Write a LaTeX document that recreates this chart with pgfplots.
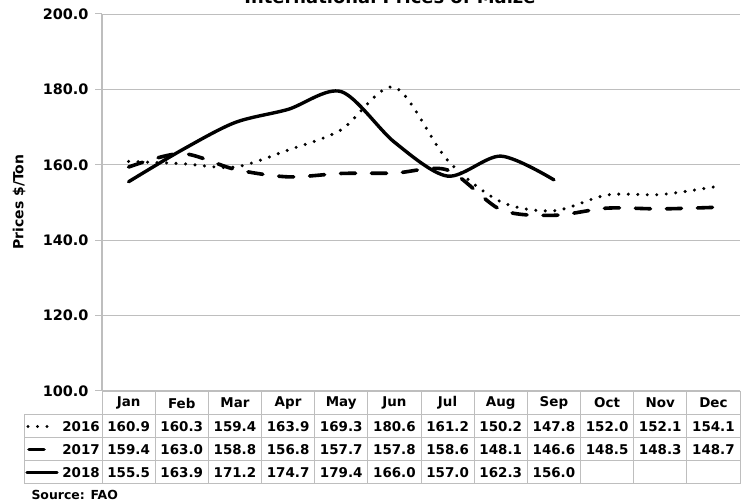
\documentclass[border=0pt]{standalone}
\usepackage{pgfplots}
\pgfplotsset{compat=1.18}
\usepackage{fontspec}
\setmainfont{DejaVu Sans}
\definecolor{axgray}{RGB}{190,190,190}
\newcommand{\tf}{\bfseries\fontsize{13.5}{15}\selectfont}
\begin{document}
\begin{tikzpicture}[x=1bp,y=1bp]
\useasboundingbox (0,0) rectangle (742,503);
\begin{axis}[
  at={(102bp,112bp)}, anchor=south west,
  width=638bp, height=377bp, scale only axis,
  xmin=-0.5, xmax=11.5, ymin=100, ymax=200,
  axis x line*=bottom, axis y line*=left,
  axis line style={axgray, line width=1.2pt},
  xtick=\empty,
  ytick={100,120,...,200},
  ymajorgrids, major grid style={axgray, line width=0.8pt},
  tick align=outside, major tick length=7bp,
  major tick style={axgray, line width=1pt},
  yticklabel={\pgfmathprintnumber[fixed,fixed zerofill,precision=1,assume math mode=true]{\tick}},
  yticklabel style={font=\bfseries\fontsize{14.5}{16}\selectfont, xshift=-3bp},
  clip=false,
]
\addplot[black, line width=3.4bp, line cap=round, dash pattern=on 0pt off 9.5bp, smooth]
  coordinates {(0,160.9)(1,160.3)(2,159.4)(3,163.9)(4,169.3)(5,180.6)(6,161.2)(7,150.2)(8,147.8)(9,152.0)(10,152.1)(11,154.1)};
\addplot[black, line width=3.6bp, line cap=round, dash pattern=on 15bp off 16bp, smooth]
  coordinates {(0,159.4)(1,163.0)(2,158.8)(3,156.8)(4,157.7)(5,157.8)(6,158.6)(7,148.1)(8,146.6)(9,148.5)(10,148.3)(11,148.7)};
\addplot[black, line width=3.4bp, line cap=round, smooth]
  coordinates {(0,155.5)(1,163.9)(2,171.2)(3,174.7)(4,179.4)(5,166.0)(6,157.0)(7,162.3)(8,156.0)};
\end{axis}
% title (cut off at top as in the reference)
\node[font=\bfseries\fontsize{18}{20}\selectfont, anchor=base] at (390,499) {International Prices of Maize};
% y label
\node[rotate=90, font=\bfseries\fontsize{14}{16}\selectfont] at (19,301) {Prices \$/Ton};
% table grid
\begin{scope}[axgray, line width=1pt]
\foreach \i in {0,...,12} {
  \draw (102+\i*53.1667,112) -- (102+\i*53.1667,19);
}
\draw (24,88) -- (740,88);
\draw (24,65) -- (740,65);
\draw (24,42) -- (740,42);
\draw (24,19) -- (740,19);
\draw (24,88) -- (24,19);
\end{scope}
% month headers
\foreach \m [count=\i from 0] in {Jan,Feb,Mar,Apr,May,Jun,Jul,Aug,Sep,Oct,Nov,Dec} {
  \node[font=\tf] at (102+\i*53.1667+26.58,100) {\m};
}
\foreach \v [count=\i from 0] in {160.9,160.3,159.4,163.9,169.3,180.6,161.2,150.2,147.8,152.0,152.1,154.1} {
  \node[font=\tf] at (102+\i*53.1667+26.58,76.5) {\v};
}
\foreach \v [count=\i from 0] in {159.4,163.0,158.8,156.8,157.7,157.8,158.6,148.1,146.6,148.5,148.3,148.7} {
  \node[font=\tf] at (102+\i*53.1667+26.58,53.5) {\v};
}
\foreach \v [count=\i from 0] in {155.5,163.9,171.2,174.7,179.4,166.0,157.0,162.3,156.0} {
  \node[font=\tf] at (102+\i*53.1667+26.58,30.5) {\v};
}
% row labels with keys
\node[font=\tf, anchor=east, inner sep=1bp] at (101,76.5) {2016};
\node[font=\tf, anchor=east, inner sep=1bp] at (101,53.5) {2017};
\node[font=\tf, anchor=east, inner sep=1bp] at (101,30.5) {2018};
\draw[black, line width=3.4bp, line cap=round, dash pattern=on 0pt off 9.5bp] (28,76.5) -- (50,76.5);
\draw[black, line width=3.6bp, line cap=round] (29,53.5) -- (44,53.5);
\draw[black, line width=3.4bp, line cap=round] (27,30.5) -- (57,30.5);
\node[font=\bfseries\fontsize{12.5}{14}\selectfont, anchor=west] at (28,8) {Source: FAO};
\end{tikzpicture}
\end{document}
